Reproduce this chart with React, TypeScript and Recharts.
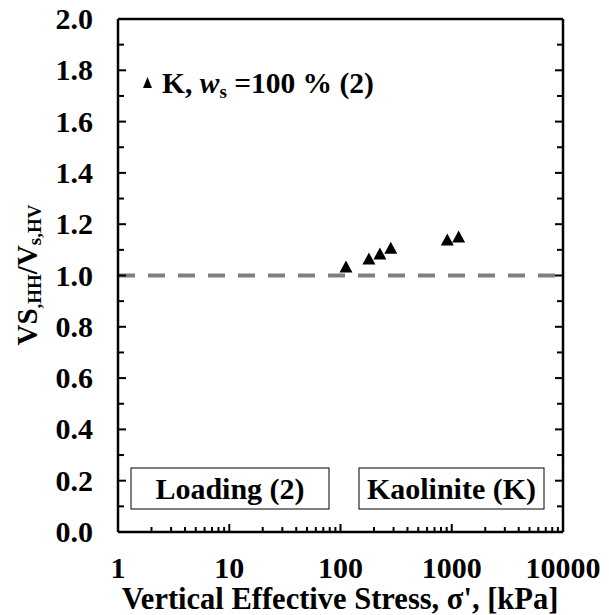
import React from 'react';
import { ScatterChart, Scatter, XAxis, YAxis, ReferenceLine } from 'recharts';

// Data
const stressKPa = [112, 180, 226, 283, 912, 1153];
const vsRatio = [1.033, 1.064, 1.084, 1.106, 1.138, 1.15];

// Axis ticks
const xMajorTicks = [1, 10, 100, 1000, 10000];
const xMinorSteps = [2, 3, 4, 5, 6, 7, 8, 9];
const yAllTicks = [0, 0.1, 0.2, 0.3, 0.4, 0.5, 0.6, 0.7, 0.8, 0.9, 1.0, 1.1, 1.2, 1.3, 1.4, 1.5, 1.6, 1.7, 1.8, 1.9, 2.0];
const yLabelTicks = [0, 0.2, 0.4, 0.6, 0.8, 1.0, 1.2, 1.4, 1.6, 1.8, 2.0];

const xAllTicks: number[] = [];
xMajorTicks.forEach((m, i) => {
  xAllTicks.push(m);
  if (i < xMajorTicks.length - 1) xMinorSteps.forEach((s) => xAllTicks.push(m * s));
});

const points = stressKPa.map((x, i) => ({ x, y: vsRatio[i] }));

const FONT = "'Liberation Serif', serif";
const W = 609;
const H = 615;

const isMajorX = (v: number) => Math.abs(Math.log10(v) - Math.round(Math.log10(v))) < 1e-9;
const isLabelY = (v: number) => yLabelTicks.some((t) => Math.abs(t - v) < 1e-9);

const BottomTick = (props: any) => {
  const { x, y, payload } = props;
  const v = payload.value;
  const major = isMajorX(v);
  return (
    <g>
      <line x1={x} x2={x} y1={y} y2={y - (major ? 8 : 5)} stroke="#000" strokeWidth={2} />
      {major && (
        <text x={x} y={y + 46} textAnchor="middle" fontFamily={FONT} fontWeight="bold" fontSize={30} fill="#000">
          {v}
        </text>
      )}
    </g>
  );
};

const TopTick = (props: any) => {
  const { x, y, payload } = props;
  const major = isMajorX(payload.value);
  return <line x1={x} x2={x} y1={y} y2={y + (major ? 8 : 5)} stroke="#000" strokeWidth={2} />;
};

const LeftTick = (props: any) => {
  const { x, y, payload } = props;
  const v = payload.value;
  const lab = isLabelY(v);
  return (
    <g>
      <line x1={x} x2={x + (lab ? 8 : 6)} y1={y} y2={y} stroke="#000" strokeWidth={2} />
      {lab && (
        <text x={x - 25} y={y + 10} textAnchor="end" fontFamily={FONT} fontWeight="bold" fontSize={30} fill="#000">
          {v.toFixed(1)}
        </text>
      )}
    </g>
  );
};

const RightTick = (props: any) => {
  const { x, y, payload } = props;
  const lab = isLabelY(payload.value);
  return <line x1={x} x2={x - (lab ? 8 : 6)} y1={y} y2={y} stroke="#000" strokeWidth={2} />;
};

const Triangle = (props: any) => {
  const { cx, cy } = props;
  if (cx == null || cy == null) return null;
  return <polygon points={`${cx},${cy - 6.5} ${cx - 6.5},${cy + 5.5} ${cx + 6.5},${cy + 5.5}`} fill="#000" />;
};

export default function App() {
  const axisLine = { stroke: '#000', strokeWidth: 2.5 };
  return (
    <div style={{ position: 'absolute', left: 0, top: 0, width: W, height: H, background: '#fff' }}>
      <ScatterChart width={W} height={H} margin={{ top: 18, right: 45, bottom: 82, left: 117 }}>
        <XAxis
          xAxisId="b"
          dataKey="x"
          type="number"
          scale="log"
          domain={[1, 10000]}
          ticks={xAllTicks}
          interval={0}
          height={1}
          tickSize={0}
          tickMargin={0}
          tickLine={false}
          axisLine={axisLine}
          tick={BottomTick}
          allowDataOverflow
        />
        <XAxis
          xAxisId="t"
          orientation="top"
          type="number"
          scale="log"
          domain={[1, 10000]}
          ticks={xAllTicks}
          interval={0}
          height={1}
          tickSize={0}
          tickMargin={0}
          tickLine={false}
          axisLine={axisLine}
          tick={TopTick}
          allowDataOverflow
        />
        <YAxis
          yAxisId="l"
          dataKey="y"
          type="number"
          domain={[0, 2]}
          ticks={yAllTicks}
          interval={0}
          width={1}
          tickSize={0}
          tickMargin={0}
          tickLine={false}
          axisLine={axisLine}
          tick={LeftTick}
          allowDataOverflow
        />
        <YAxis
          yAxisId="r"
          orientation="right"
          type="number"
          domain={[0, 2]}
          ticks={yAllTicks}
          interval={0}
          width={1}
          tickSize={0}
          tickMargin={0}
          tickLine={false}
          axisLine={axisLine}
          tick={RightTick}
          allowDataOverflow
        />
        <ReferenceLine
          xAxisId="b"
          yAxisId="l"
          y={1}
          stroke="#808080"
          strokeWidth={4}
          strokeDasharray="17 13"
        />
        <Scatter xAxisId="b" yAxisId="l" data={points} fill="#000" shape={Triangle} isAnimationActive={false} />
      </ScatterChart>
      <svg
        width={W}
        height={H}
        style={{ position: 'absolute', left: 0, top: 0, pointerEvents: 'none' }}
        fontFamily={FONT}
        fontWeight="bold"
      >
        {/* legend */}
        <polygon points="147.5,77 143,88 152,88" fill="#000" />
        <text x={162} y={93} fontSize={29.5} fill="#000">
          K, <tspan fontStyle="italic">w</tspan>
          <tspan fontSize={19} dy={5}>s</tspan>
          <tspan dy={-5}> =100 % (2)</tspan>
        </text>
        {/* boxes */}
        <rect x={131} y={468} width={198} height={41} fill="#fff" stroke="#000" strokeWidth={1} />
        <text x={230} y={498.5} textAnchor="middle" fontSize={30} fill="#000">
          Loading (2)
        </text>
        <rect x={359} y={468} width={185} height={41} fill="#fff" stroke="#000" strokeWidth={1} />
        <text x={451.5} y={498.5} textAnchor="middle" fontSize={30} fill="#000">
          Kaolinite (K)
        </text>
        {/* axis titles */}
        <text x={340} y={609} textAnchor="middle" fontSize={30.5} fill="#000">
          Vertical Effective Stress, σ', [kPa]
        </text>
        <text transform="translate(37,275) rotate(-90)" textAnchor="middle" fontSize={29} fill="#000">
          VS<tspan fontSize={19} dy={4}>,HH</tspan>
          <tspan fontSize={29} dy={-4}>/V</tspan>
          <tspan fontSize={19} dy={4}>s,HV</tspan>
        </text>
      </svg>
    </div>
  );
}
